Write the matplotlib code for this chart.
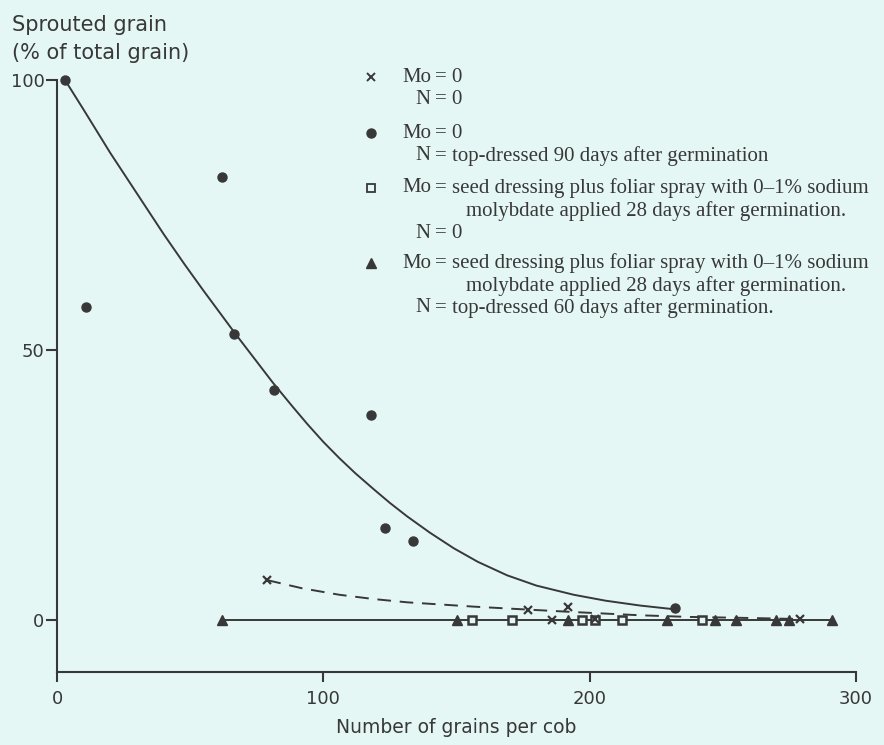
import matplotlib.pyplot as plt

# Mo = 0, N = top-dressed 90 days (filled circles) and the fitted curve
circ_x = [3, 11, 62, 66.5, 81.5, 118, 123, 133.5, 232]
circ_y = [100, 58, 82, 53, 42.6, 38, 17, 14.7, 2.2]
curve_x = [3, 10, 20, 30, 40, 48, 55, 61, 67, 74, 81, 88, 94, 100, 106, 112,
           119, 125, 131.5, 140, 149, 158, 169, 180, 194, 206, 219, 232]
curve_y = [100, 94.5, 86.5, 79, 71.5, 65.8, 61, 57, 53, 48.5, 44.0, 39.8, 36.3,
           33.0, 30.0, 27.2, 24.2, 21.7, 19.2, 16.2, 13.3, 10.8, 8.3, 6.4, 4.7,
           3.6, 2.7, 2.0]

# Mo = 0, N = 0 (crosses) and the dashed curve
cross_x = [79, 177, 186, 192, 202, 279]
cross_y = [7.4, 1.9, 0, 2.5, 0.3, 0.2]
dash_x = [79, 92, 106, 119, 131.5, 144, 156.5, 175, 194, 219, 237, 260, 279]
dash_y = [7.4, 5.9, 4.7, 3.9, 3.3, 2.9, 2.5, 2.0, 1.5, 0.9, 0.6, 0.4, 0.2]

# Mo applied, N = 0 (open squares)
sq_x = [156, 171, 197, 202, 212, 242]
sq_y = [0, 0, 0, 0, 0, 0]

# Mo applied, N = top-dressed 60 days (filled triangles)
tri_x = [62, 150, 192, 229, 247, 255, 270, 275, 291]
tri_y = [0, 0, 0, 0, 0, 0, 0, 0, 0]

legend_rows = [
    ("x", [("Mo", "= 0"), ("N", "= 0")]),
    ("o", [("Mo", "= 0"), ("N", "= top-dressed 90 days after germination")]),
    ("s", [("Mo", "= seed dressing plus foliar spray with 0\u20131% sodium"),
           ("", "molybdate applied 28 days after germination."),
           ("N", "= 0")]),
    ("^", [("Mo", "= seed dressing plus foliar spray with 0\u20131% sodium"),
           ("", "molybdate applied 28 days after germination."),
           ("N", "= top-dressed 60 days after germination.")]),
]

bg = "#e5f7f5"
ink = "#383838"
W, H = 884, 745

fig = plt.figure(figsize=(W / 100, H / 100), dpi=100, facecolor=bg)
ax = fig.add_axes([57 / W, 1 - 672 / H, (856 - 57) / W, (672 - 80) / H])
ax.set_facecolor(bg)

ax.plot(curve_x, curve_y, color=ink, lw=1.4, zorder=2)
ax.plot(dash_x, dash_y, color=ink, lw=1.4, linestyle=(0, (7, 4.5)), zorder=2)
ax.plot([tri_x[0], tri_x[-1]], [0, 0], color=ink, lw=1.4, zorder=2)

ax.plot(circ_x, circ_y, "o", color=ink, ms=6.5, ls="none", clip_on=False, zorder=3)
ax.plot(cross_x, cross_y, "x", color=ink, ms=6, mew=1.6, ls="none", zorder=4)
ax.plot(sq_x, sq_y, "s", mfc=bg, mec=ink, ms=6, mew=1.8, ls="none", zorder=3)
ax.plot(tri_x, tri_y, "^", color=ink, ms=6.5, ls="none", zorder=3)

ax.set_xlim(0, 300)
ax.set_ylim(-9.6, 100)
ax.set_xticks([0, 100, 200, 300])
ax.set_yticks([0, 50, 100])
ax.set_xticklabels(["0", "100", "200", "300"])
ax.set_yticklabels(["0", "50", "100"])
for s in ["top", "right"]:
    ax.spines[s].set_visible(False)
for s in ["left", "bottom"]:
    ax.spines[s].set_color(ink)
    ax.spines[s].set_linewidth(1.5)
ax.tick_params(axis="x", length=7, width=1.5, color=ink, pad=6, labelsize=13, labelcolor=ink)
ax.tick_params(axis="y", length=8, width=1.5, color=ink, pad=1, labelsize=13, labelcolor=ink)
ax.set_xlabel("Number of grains per cob", fontsize=13.5, color=ink, labelpad=7)

fig.text(12 / W, 1 - 25 / H, "Sprouted grain", fontsize=15, color=ink, va="center", ha="left")
fig.text(12 / W, 1 - 53 / H, "(% of total grain)", fontsize=15, color=ink, va="center", ha="left")

# legend block, drawn by hand
row_y = [[77, 100], [133, 156], [188, 211, 233], [263, 286, 308]]
for (mk, lines), ys in zip(legend_rows, row_y):
    if mk == "s":
        ax.plot([371 / W], [1 - ys[0] / H], mk, mfc=bg, mec=ink, ms=6, mew=1.3,
                transform=fig.transFigure, clip_on=False)
    elif mk == "x":
        ax.plot([371 / W], [1 - ys[0] / H], mk, color=ink, ms=5.5, mew=1.4,
                transform=fig.transFigure, clip_on=False)
    else:
        ax.plot([371 / W], [1 - ys[0] / H], mk, color=ink, ms=6.5,
                transform=fig.transFigure, clip_on=False)
    for (lead, rest), y in zip(lines, ys):
        if lead:
            fig.text(431 / W, 1 - y / H, lead, fontsize=15, family="Liberation Serif",
                     color=ink, ha="right", va="center")
            fig.text(435 / W, 1 - y / H, rest, fontsize=15, family="Liberation Serif",
                     color=ink, ha="left", va="center")
        else:
            fig.text(466 / W, 1 - y / H, rest, fontsize=15, family="Liberation Serif",
                     color=ink, ha="left", va="center")

fig.savefig("out.png", dpi=100, facecolor=bg)
